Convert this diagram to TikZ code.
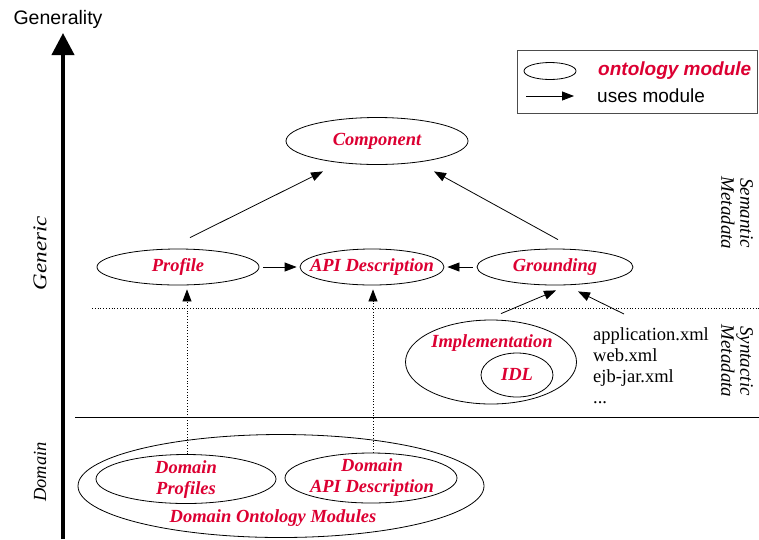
\documentclass[tikz,border=0pt]{standalone}
\usepackage{fontspec}
\setmainfont{Liberation Serif}
\setsansfont{Liberation Sans}
\usetikzlibrary{shapes.geometric,arrows.meta}
\definecolor{modred}{RGB}{220,0,50}

\begin{document}
\begin{tikzpicture}[x=1pt,y=-1pt,
  module/.style={ellipse,draw,line width=0.8pt,inner sep=0pt},
  modlabel/.style={text=modred,font=\fontsize{18.5}{21}\selectfont\bfseries\itshape,align=center,inner sep=0pt},
  plain/.style={font=\fontsize{18.5}{21}\selectfont,inner sep=0pt},
  side/.style={font=\fontsize{19}{19}\selectfont\itshape,align=center,inner sep=0pt},
  uses/.style={-{Triangle[length=12pt,width=9pt]},line width=0.8pt},
  usesdot/.style={uses,dotted}]
\useasboundingbox (0,0) rectangle (759,539);

% generality axis
\node[font=\fontsize{19.5}{20}\selectfont\sffamily,inner sep=0pt] (gen) at (58,19) {Generality};
\coordinate (axbot) at (63,539);
\coordinate (axtop) at (63,33);
\draw[line width=4pt,-{Triangle[length=22pt,width=22pt]}] (axbot) -- (axtop);
\node[side,rotate=90,font=\fontsize{19.5}{20}\selectfont\itshape] (generic) at (40,253) {\scalebox{1.18}[1]{Generic}};
\node[side,rotate=90,font=\fontsize{18.5}{19}\selectfont\itshape] (domain) at (40,472) {Domain};
\node[side,rotate=-90] (semantic) at (737,213) {Semantic\\Metadata};
\node[side,rotate=-90] (syntactic) at (737,361) {Syntactic\\Metadata};

% layer separators
\draw[dotted,line width=0.8pt] (92,308) -- (759,308);
\draw[line width=1pt] (75,417) -- (759,417);

% legend
\draw[line width=1pt,black!70] (517,50) rectangle (757,113);
\node[module,minimum width=52,minimum height=17] (legmod) at (550,71) {};
\node[anchor=west,inner sep=0pt,text=modred,font=\fontsize{19}{20}\selectfont\sffamily\bfseries\itshape] (legmodtxt) at (598,71) {ontology module};
\coordinate (legA) at (526,96);
\coordinate (legB) at (574,96);
\draw[uses] (legA) -- (legB);
\node[anchor=west,inner sep=0pt,font=\fontsize{19}{20}\selectfont\sffamily] (legusetxt) at (597,96) {uses module};

% semantic metadata modules
\node[module,minimum width=182,minimum height=47] (component) at (377,141) {};
\node[modlabel] (componenttxt) at (377,141) {Component};
\node[module,minimum width=162,minimum height=36] (profile) at (178,267) {};
\node[modlabel] (profiletxt) at (178,267) {Profile};
\node[module,minimum width=144,minimum height=36] (api) at (372,267) {};
\node[modlabel] (apitxt) at (372,267) {API Description};
\node[module,minimum width=156,minimum height=36] (grounding) at (555,267) {};
\node[modlabel] (groundingtxt) at (555,267) {Grounding};

% syntactic metadata
\node[module,minimum width=171,minimum height=84] (impl) at (491,362) {};
\node[modlabel] (impltxt) at (492,343) {Implementation};
\node[module,minimum width=72,minimum height=44] (idl) at (517,375) {};
\node[modlabel] (idltxt) at (517,374) {IDL};
\node[plain,align=left,anchor=north west] (xml) at (593,327) {application.xml\\web.xml\\ejb-jar.xml\\...};

% domain modules
\node[module,minimum width=406,minimum height=103] (dom) at (281,486) {};
\node[modlabel] (domtxt) at (273,518) {Domain Ontology Modules};
\node[module,minimum width=180,minimum height=49] (dprof) at (186,479) {};
\node[modlabel] (dproftxt) at (186,480) {Domain\\Profiles};
\node[module,minimum width=172,minimum height=50] (dapi) at (371,478) {};
\node[modlabel] (dapitxt) at (372,478) {Domain\\API Description};

% uses module
\draw[uses] ([shift={(12,-11)}]profile.north) -- ([shift={(-54,6.5)}]component.south);
\draw[uses] ([shift={(3,-9)}]grounding.north) -- ([shift={(57,6.5)}]component.south);
\draw[uses] ([shift={(4,0)}]profile.east) -- ([shift={(-3,0)}]api.west);
\draw[uses] ([shift={(-4,0)}]grounding.west) -- ([shift={(3,0)}]api.east);
\draw[uses] ([shift={(10,-6)}]impl.north) -- ([shift={(1,5)}]grounding.south);
\draw[uses] ([shift={(31,-13)}]xml.north west) -- ([shift={(23,6)}]grounding.south);
\draw[usesdot] ([shift={(1,0)}]dprof.north) -- ([shift={(9,4)}]profile.south);
\draw[usesdot] ([shift={(2,0)}]dapi.north) -- ([shift={(1,4)}]api.south);
\end{tikzpicture}
\end{document}
